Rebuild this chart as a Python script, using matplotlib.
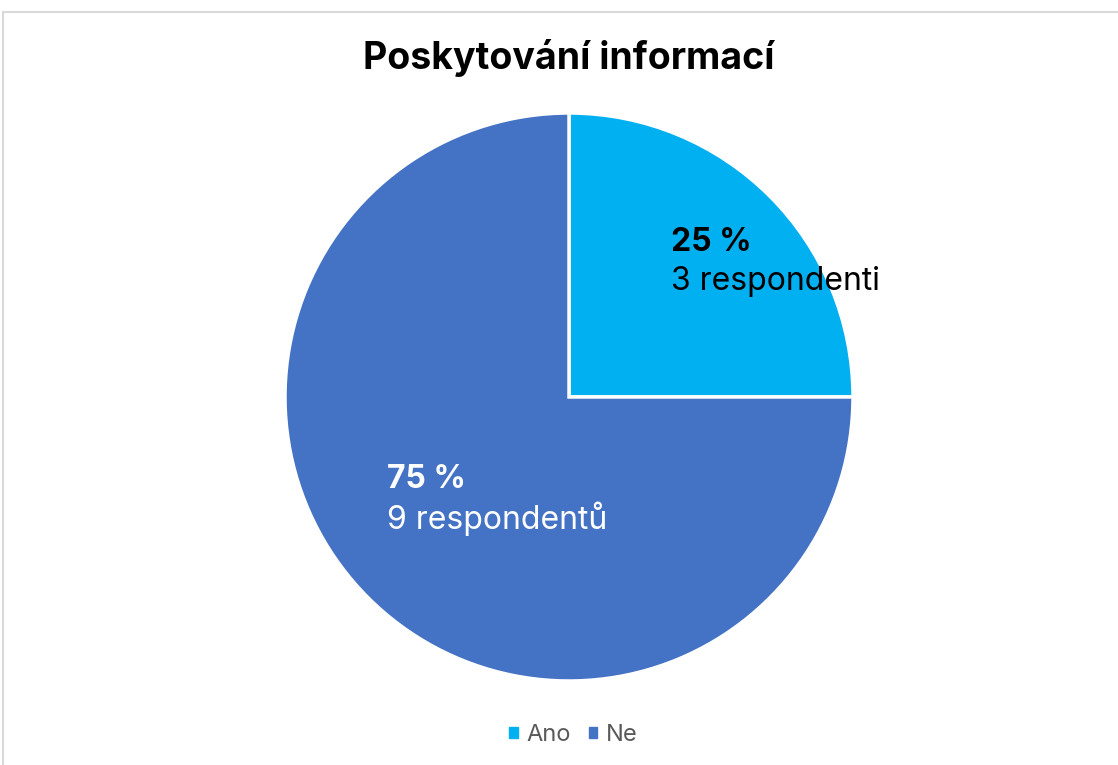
import matplotlib.pyplot as plt
from matplotlib.patches import Rectangle

# data
categories = ['Ano', 'Ne']
values = [3, 9]
percent_labels = ['25 %', '75 %']
count_labels = ['3 respondenti', '9 respondentů']
colors = ['#00B0F0', '#4472C4']
label_colors = ['black', 'white']

plt.rcParams['font.family'] = ['Inter', 'DejaVu Sans']

W, H = 1118, 765
fig = plt.figure(figsize=(W / 100, H / 100), dpi=100)

# chart border (gray frame, cut on right/bottom)
fig.patches.append(Rectangle((3 / W, -0.1), 1.2, (H - 12) / H + 0.1,
                             transform=fig.transFigure, fill=False,
                             edgecolor='#D9D9D9', linewidth=1.5))

cx, cy, r = 569, 397, 284
ax = fig.add_axes([(cx - r) / W, (H - cy - r) / H, 2 * r / W, 2 * r / H])
wedges, _ = ax.pie(values, colors=colors, startangle=90, counterclock=False,
                   radius=1, wedgeprops=dict(edgecolor='white', linewidth=2.5))
ax.set_xlim(-1, 1)
ax.set_ylim(-1, 1)
ax.set_aspect('equal')
ax.axis('off')

# data labels (position in data coords of the pie)
label_pos = [(0.36, 0.475), (-0.64, -0.36)]
for (x, y), p, c, col in zip(label_pos, percent_labels, count_labels, label_colors):
    ax.text(x, y + 0.07, p, fontsize=23, fontweight='bold', color=col,
            ha='left', va='center')
    ax.text(x, y - 0.07, c, fontsize=23, color=col, ha='left', va='center')

fig.text(cx / W, 1 - 58 / H, 'Poskytování informací', fontsize=27,
         fontweight='bold', ha='center', va='center')

handles = [Rectangle((0, 0), 1, 1, color=c) for c in colors]
fig.legend(handles, categories, loc='center', bbox_to_anchor=(cx / W + 0.004, 1 - 735 / H),
           ncol=2, frameon=False, fontsize=17, handlelength=0.36, handleheight=0.36,
           handletextpad=0.38, columnspacing=0.75, labelcolor='#595959')

fig.savefig('out.png', dpi=100)
